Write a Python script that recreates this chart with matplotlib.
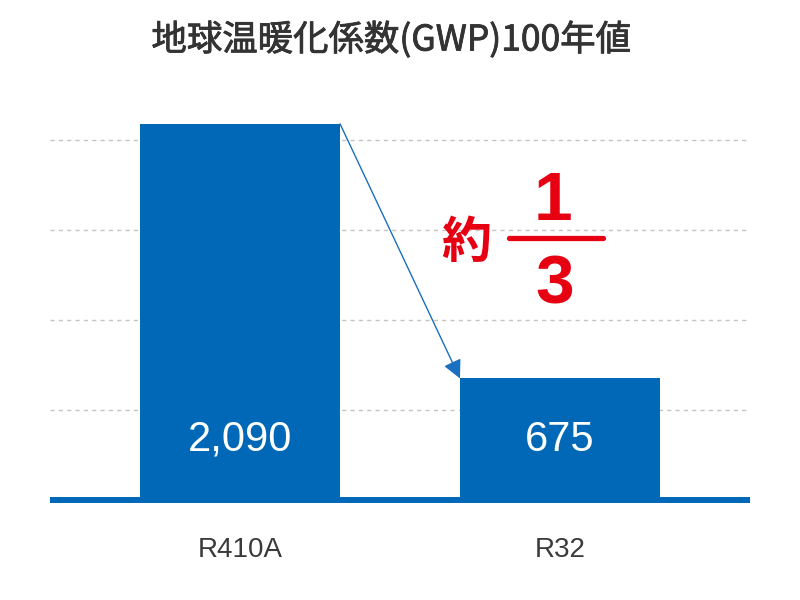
import matplotlib.pyplot as plt
import matplotlib.patheffects as pe
from matplotlib.lines import Line2D

plt.rcParams['font.family'] = ['Noto Sans CJK JP', 'DejaVu Sans']

# データ
categories = ['R410A', 'R32']
gwp_values = [2090, 675]
value_labels = ['2,090', '675']
grid_values = [500, 1000, 1500, 2000]
title = '地球温暖化係数(GWP)100年値'

BLUE = '#0068b7'
RED = '#e60012'
LATIN = ['Liberation Sans', 'DejaVu Sans']

fig = plt.figure(figsize=(8, 6), dpi=100)
ax = fig.add_axes([0.0625, 0.1667, 0.875, 0.66])

x = list(range(len(categories)))
bar_w = 0.625
ax.bar(x, gwp_values, width=bar_w, color=BLUE, zorder=3)

for v in grid_values:
    ax.axhline(v, color='#c4c4c4', linewidth=1.0, linestyle=(0, (3, 3)), zorder=1)

ax.set_xlim(-0.594, 1.594)
ax.set_ylim(0, 2200)

for s in ['top', 'right', 'left']:
    ax.spines[s].set_visible(False)
ax.spines['bottom'].set_color(BLUE)
ax.spines['bottom'].set_linewidth(4.3)
ax.spines['bottom'].set_capstyle('butt')
ax.spines['bottom'].set_zorder(4)
ax.set_yticks([])
ax.set_xticks(x)
ax.set_xticklabels(categories, fontsize=20, color='#3a3a3a', family=LATIN)
ax.tick_params(axis='x', length=0, pad=27)

# 棒の中の値
for xi, lab in zip(x, value_labels):
    ax.text(xi, 335, lab, color='white', fontsize=30, ha='center', va='center',
            family=LATIN, zorder=5)

# 矢印
ax.annotate('', xy=(x[1] - bar_w / 2, gwp_values[1]), xytext=(x[0] + bar_w / 2, gwp_values[0]),
            arrowprops=dict(arrowstyle='-|>', color='#1a6fc0', linewidth=1.0,
                            mutation_scale=28, shrinkA=0, shrinkB=0), zorder=6)

# 約 1/3
fig.text(466 / 800, 1 - 243 / 600, '約', color=RED, fontsize=36, fontweight='bold',
         ha='center', va='center')
fig.text(553 / 800, 1 - 202 / 600, '1', color=RED, fontsize=50, fontweight='bold',
         ha='center', va='center', family=LATIN)
fig.text(555 / 800, 1 - 285 / 600, '3', color=RED, fontsize=50, fontweight='bold',
         ha='center', va='center', family=LATIN)
fig.add_artist(Line2D([509 / 800, 603 / 800], [1 - 238 / 600, 1 - 238 / 600],
                      color=RED, linewidth=3.8, solid_capstyle='round'))

# タイトル（少し太めに）
fig.text(391 / 800, 1 - 40 / 600, title, fontsize=25.5, fontweight='normal',
         color='#333333', ha='center', va='center',
         path_effects=[pe.withStroke(linewidth=0.6, foreground='#333333')])

fig.savefig('out.png', dpi=100)
